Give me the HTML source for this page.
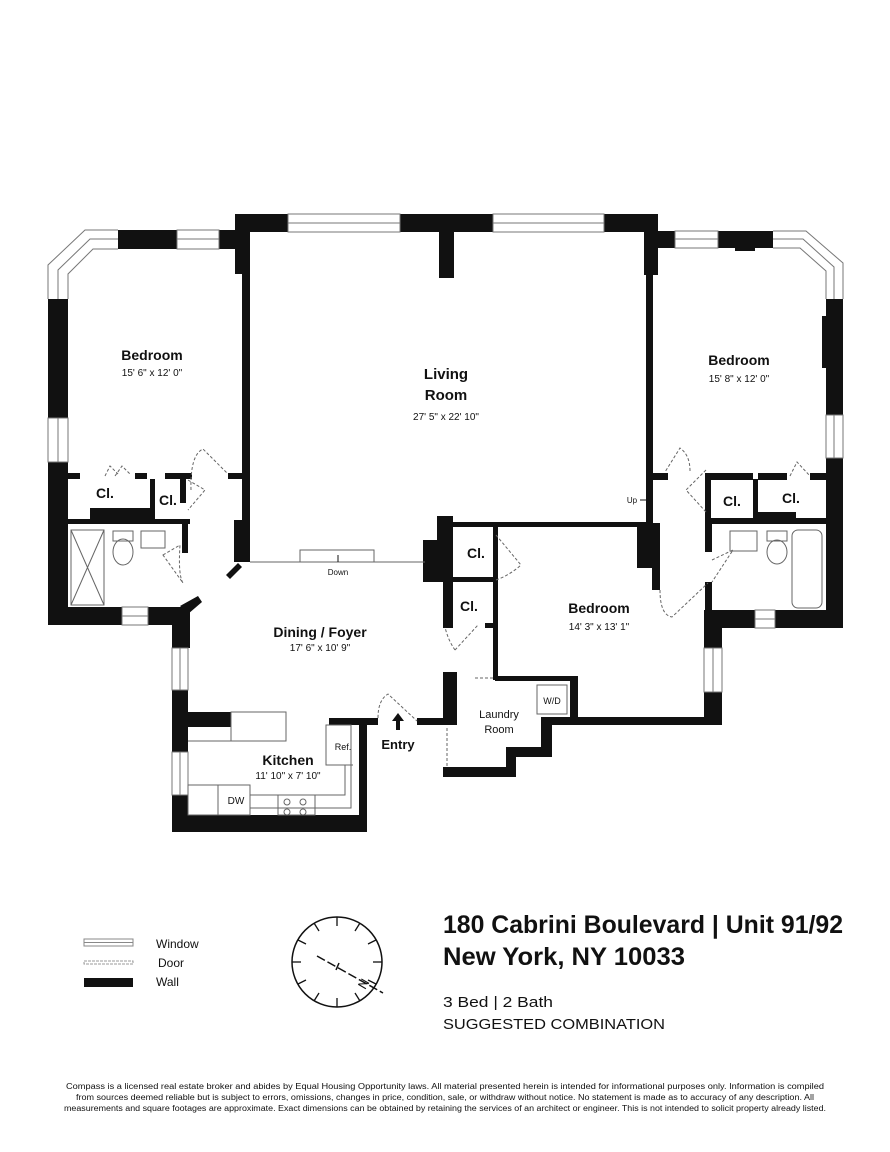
<!DOCTYPE html>
<html><head><meta charset="utf-8"><style>
html,body{margin:0;padding:0;background:#fff;}
svg{display:block;}
text{font-family:"Liberation Sans",sans-serif;fill:#111;}
</style></head><body>
<svg width="890" height="1152" viewBox="0 0 890 1152" xmlns="http://www.w3.org/2000/svg">
<g fill="#111">
<rect x="235" y="214" width="53" height="18"/>
<rect x="400" y="214" width="93" height="18"/>
<rect x="604" y="214" width="54" height="18"/>
<rect x="439" y="214" width="15" height="64"/>
<rect x="235" y="214" width="15" height="60"/>
<rect x="644" y="214" width="14" height="61"/>
<rect x="242" y="274" width="8" height="250"/>
<rect x="646" y="275" width="7" height="247"/>
<rect x="234" y="520" width="16" height="42"/>
<polygon points="226,575 238,563 242,567 230,579"/>
<rect x="219" y="230" width="16" height="19"/>
<rect x="118" y="230" width="59" height="19"/>
<rect x="48" y="299" width="20" height="119"/>
<rect x="48" y="462" width="20" height="163"/>
<rect x="68" y="473" width="12" height="6"/>
<rect x="135" y="473" width="12" height="6"/>
<rect x="165" y="473" width="27" height="6"/>
<rect x="228" y="473" width="14" height="6"/>
<rect x="150" y="479" width="5" height="44"/>
<rect x="90" y="508" width="63" height="15"/>
<rect x="68" y="519" width="122" height="5"/>
<rect x="180" y="479" width="6" height="24"/>
<rect x="182" y="523" width="6" height="30"/>
<rect x="48" y="607" width="74" height="18"/>
<rect x="148" y="607" width="42" height="18"/>
<polygon points="180,606 198,596 202,602 188,614"/>
<rect x="172" y="607" width="18" height="41"/>
<rect x="172" y="690" width="16" height="62"/>
<rect x="172" y="795" width="16" height="37"/>
<rect x="172" y="815" width="195" height="17"/>
<rect x="359" y="718" width="8" height="114"/>
<rect x="329" y="718" width="49" height="7"/>
<rect x="417" y="718" width="40" height="7"/>
<rect x="443" y="672" width="14" height="53"/>
<rect x="188" y="712" width="43" height="15"/>
<rect x="443" y="767" width="73" height="10"/>
<rect x="506" y="747" width="10" height="30"/>
<rect x="506" y="747" width="46" height="10"/>
<rect x="541" y="718" width="11" height="39"/>
<rect x="541" y="717" width="181" height="8"/>
<rect x="570" y="676" width="8" height="49"/>
<rect x="495" y="676" width="83" height="5"/>
<rect x="453" y="522" width="200" height="5"/>
<rect x="493" y="527" width="5" height="153"/>
<rect x="443" y="516" width="10" height="112"/>
<rect x="423" y="540" width="30" height="42"/>
<rect x="437" y="516" width="8" height="30"/>
<rect x="453" y="577" width="44" height="5"/>
<rect x="485" y="623" width="12" height="5"/>
<rect x="637" y="523" width="22" height="45"/>
<rect x="652" y="523" width="8" height="67"/>
<rect x="704" y="612" width="18" height="36"/>
<rect x="704" y="692" width="18" height="33"/>
<rect x="658" y="231" width="17" height="17"/>
<rect x="718" y="231" width="55" height="17"/>
<rect x="735" y="245" width="20" height="6"/>
<rect x="826" y="299" width="17" height="116"/>
<rect x="822" y="316" width="6" height="52"/>
<rect x="826" y="458" width="17" height="170"/>
<rect x="652" y="473" width="16" height="7"/>
<rect x="705" y="473" width="48" height="7"/>
<rect x="758" y="473" width="29" height="7"/>
<rect x="810" y="473" width="17" height="7"/>
<rect x="753" y="479" width="5" height="43"/>
<rect x="758" y="512" width="38" height="10"/>
<rect x="705" y="479" width="6" height="41"/>
<rect x="705" y="518" width="122" height="6"/>
<rect x="705" y="523" width="7" height="29"/>
<rect x="705" y="582" width="7" height="30"/>
<rect x="704" y="610" width="51" height="18"/>
<rect x="775" y="610" width="68" height="18"/>
</g>
<g fill="#fff" stroke="#777" stroke-width="1">
<rect x="288" y="214" width="112" height="18"/><line x1="288" y1="223" x2="400" y2="223"/>
<rect x="493" y="214" width="111" height="18"/><line x1="493" y1="223" x2="604" y2="223"/>
<rect x="177" y="230" width="42" height="19"/><line x1="177" y1="239" x2="219" y2="239"/>
<rect x="48" y="418" width="20" height="44"/><line x1="58" y1="418" x2="58" y2="462"/>
<rect x="122" y="607" width="26" height="18"/><line x1="122" y1="616" x2="148" y2="616"/>
<rect x="172" y="648" width="16" height="42"/><line x1="180" y1="648" x2="180" y2="690"/>
<rect x="172" y="752" width="16" height="43"/><line x1="180" y1="752" x2="180" y2="795"/>
<rect x="675" y="231" width="43" height="17"/><line x1="675" y1="239" x2="718" y2="239"/>
<rect x="826" y="415" width="17" height="43"/><line x1="834" y1="415" x2="834" y2="458"/>
<rect x="704" y="648" width="18" height="44"/><line x1="713" y1="648" x2="713" y2="692"/>
<rect x="755" y="610" width="20" height="18"/><line x1="755" y1="619" x2="775" y2="619"/>
</g>
<g fill="none" stroke="#777" stroke-width="1">
<polyline points="48,299 48,265 85,230 118,230"/>
<polyline points="58,299 58,270 90,239 118,239"/>
<polyline points="68,299 68,274 93,249 118,249"/>
<polyline points="773,231 806,231 843,263 843,299"/>
<polyline points="773,239 803,239 834,267 834,299"/>
<polyline points="773,248 800,248 826,271 826,299"/>
</g>
<g fill="none" stroke="#666" stroke-width="1">
<rect x="300" y="550" width="74" height="12"/>
<line x1="250" y1="562" x2="425" y2="562"/>
<rect x="231" y="712" width="55" height="29"/>
<line x1="188" y1="741" x2="231" y2="741"/>
<polyline points="188,785 250,785 250,795 345,795 345,765 353,765"/>
<rect x="326" y="725" width="25" height="40"/>
<polyline points="351,765 351,808 250,808"/>
<rect x="188" y="785" width="30" height="30"/>
<rect x="218" y="785" width="32" height="30"/>
<rect x="278" y="795" width="37" height="20"/>
<circle cx="287" cy="802" r="3"/><circle cx="303" cy="802" r="3"/>
<circle cx="287" cy="812" r="3"/><circle cx="303" cy="812" r="3"/>
<rect x="537" y="685" width="30" height="29"/>
<rect x="71" y="530" width="33" height="75"/>
<line x1="71" y1="530" x2="104" y2="605"/><line x1="104" y1="530" x2="71" y2="605"/>
<rect x="113" y="531" width="20" height="10"/><ellipse cx="123" cy="552" rx="10" ry="13"/>
<rect x="141" y="531" width="24" height="17"/>
<rect x="730" y="531" width="27" height="20"/>
<rect x="767" y="531" width="20" height="10"/><ellipse cx="777" cy="552" rx="10" ry="12"/>
<rect x="792" y="530" width="30" height="78" rx="6"/>
</g>
<g fill="none" stroke="#666" stroke-width="1" stroke-dasharray="3,2">
<path d="M191,490 Q190,455 203,449 L227,473"/>
<path d="M188,480 L205,490 L188,510"/>
<path d="M163,555 L180,545 Q178,575 183,583 Z"/>
<path d="M496,535 L521,565"/><path d="M496,580 Q510,575 521,565"/>
<path d="M455,650 L478,625"/><path d="M455,650 Q448,640 445,627"/>
<path d="M690,471 Q690,455 680,448 L665,472"/>
<path d="M706,470 L686,490 L706,512"/>
<path d="M712,560 L733,550 L712,582"/>
<path d="M660,590 Q660,615 672,617 L708,583"/>
<path d="M378,718 Q378,700 388,694 L417,721"/>
<line x1="447" y1="728" x2="447" y2="768"/>
<line x1="475" y1="678" x2="495" y2="678"/>
<path d="M105,476 L110,466 L118,474"/><path d="M115,476 L122,466 L130,474"/>
<path d="M790,476 L797,462 L810,476"/>
</g>
<polygon points="398,713 392,721 396,721 396,730 400,730 400,721 404,721" fill="#111"/>
<line x1="338" y1="555" x2="338" y2="562" stroke="#111"/>
<line x1="640" y1="500" x2="648" y2="500" stroke="#111"/>
<g text-anchor="middle">
<text x="152" y="360" font-size="14" font-weight="bold">Bedroom</text>
<text x="152" y="376" font-size="10">15' 6" x 12' 0"</text>
<text x="446" y="379" font-size="15" font-weight="bold">Living</text>
<text x="446" y="400" font-size="15" font-weight="bold">Room</text>
<text x="446" y="420" font-size="10">27' 5" x 22' 10"</text>
<text x="739" y="365" font-size="14" font-weight="bold">Bedroom</text>
<text x="739" y="382" font-size="10">15' 8" x 12' 0"</text>
<text x="599" y="613" font-size="14" font-weight="bold">Bedroom</text>
<text x="599" y="630" font-size="10">14' 3" x 13' 1"</text>
<text x="320" y="637" font-size="14" font-weight="bold">Dining / Foyer</text>
<text x="320" y="651" font-size="10">17' 6" x 10' 9"</text>
<text x="288" y="765" font-size="14" font-weight="bold">Kitchen</text>
<text x="288" y="779" font-size="10">11' 10" x 7' 10"</text>
<text x="398" y="749" font-size="13" font-weight="bold">Entry</text>
<text x="499" y="718" font-size="11">Laundry</text>
<text x="499" y="733" font-size="11">Room</text>
<text x="552" y="704" font-size="9">W/D</text>
<text x="343" y="750" font-size="9">Ref.</text>
<text x="236" y="804" font-size="10">DW</text>
<text x="105" y="498" font-size="14" font-weight="bold">Cl.</text>
<text x="168" y="505" font-size="14" font-weight="bold">Cl.</text>
<text x="476" y="558" font-size="14" font-weight="bold">Cl.</text>
<text x="469" y="611" font-size="14" font-weight="bold">Cl.</text>
<text x="732" y="506" font-size="14" font-weight="bold">Cl.</text>
<text x="791" y="503" font-size="14" font-weight="bold">Cl.</text>
<text x="632" y="503" font-size="8">Up</text>
<text x="338" y="575" font-size="8">Down</text>
</g>
<rect x="84" y="939" width="49" height="7" fill="#fff" stroke="#888"/>
<line x1="84" y1="942.5" x2="133" y2="942.5" stroke="#888"/>
<rect x="84" y="961" width="49" height="3" fill="#fff" stroke="#999" stroke-dasharray="3,1"/>
<rect x="84" y="978" width="49" height="9" fill="#111"/>
<text x="156" y="948" font-size="12">Window</text>
<text x="158" y="967" font-size="12">Door</text>
<text x="156" y="986" font-size="12">Wall</text>
<g stroke="#111" stroke-width="1.5" fill="none">
<circle cx="337" cy="962" r="45"/>
<line x1="317" y1="956" x2="383" y2="993" stroke-dasharray="9,3"/>
<line x1="339" y1="963" x2="336" y2="970"/>
</g>
<text x="364" y="988" font-size="13" transform="rotate(-60 364 984)" text-anchor="middle">N</text>
<g stroke="#111" stroke-width="1.3">
<line x1="337" y1="917" x2="337" y2="926"/><line x1="337" y1="1007" x2="337" y2="998"/>
<line x1="292" y1="962" x2="301" y2="962"/><line x1="382" y1="962" x2="373" y2="962"/>
<line x1="314" y1="923" x2="319" y2="931"/><line x1="360" y1="923" x2="355" y2="931"/>
<line x1="298" y1="940" x2="306" y2="944"/><line x1="376" y1="940" x2="368" y2="944"/>
<line x1="298" y1="984" x2="306" y2="980"/><line x1="376" y1="984" x2="368" y2="980"/>
<line x1="314" y1="1001" x2="319" y2="993"/><line x1="360" y1="1001" x2="355" y2="993"/>
</g>
<text x="443" y="933" font-size="25" font-weight="bold" textLength="400" lengthAdjust="spacingAndGlyphs">180 Cabrini Boulevard | Unit 91/92</text>
<text x="443" y="965" font-size="25" font-weight="bold" textLength="242" lengthAdjust="spacingAndGlyphs">New York, NY 10033</text>
<text x="443" y="1007" font-size="15" textLength="110" lengthAdjust="spacingAndGlyphs">3 Bed | 2 Bath</text>
<text x="443" y="1029" font-size="15" textLength="222" lengthAdjust="spacingAndGlyphs">SUGGESTED COMBINATION</text>
<g font-size="8" text-anchor="middle">
<text x="445" y="1089" textLength="758" lengthAdjust="spacingAndGlyphs">Compass is a licensed real estate broker and abides by Equal Housing Opportunity laws. All material presented herein is intended for informational purposes only. Information is compiled</text>
<text x="445" y="1100" textLength="738" lengthAdjust="spacingAndGlyphs">from sources deemed reliable but is subject to errors, omissions, changes in price, condition, sale, or withdraw without notice. No statement is made as to accuracy of any description. All</text>
<text x="445" y="1111" textLength="762" lengthAdjust="spacingAndGlyphs">measurements and square footages are approximate. Exact dimensions can be obtained by retaining the services of an architect or engineer. This is not intended to solicit property already listed.</text>
</g>
</svg>
</body></html>
